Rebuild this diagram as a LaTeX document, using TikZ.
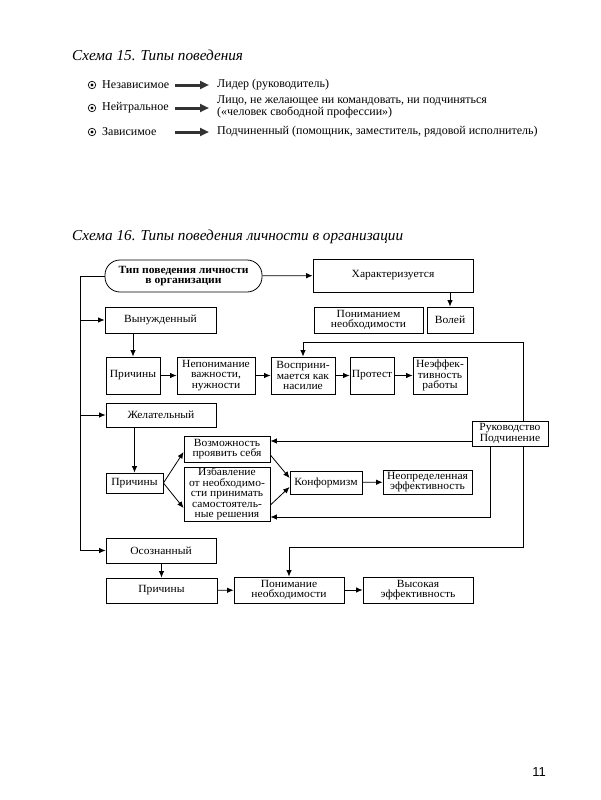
\documentclass[tikz,border=0pt]{standalone}
\usepackage{fontspec}
\setmainfont{Liberation Serif}
\newfontfamily\wideserif{Liberation Serif}[FakeStretch=1.05]
\newfontfamily\numfont{Liberation Sans}
\usetikzlibrary{arrows.meta, positioning, calc}

\newcommand{\boxfont}{\wideserif\fontsize{11}{10.4}\selectfont}
\newcommand{\listfont}{\fontsize{12}{12}\selectfont}
\newcommand{\headfont}{\fontsize{15.2}{16}\selectfont\itshape}

\tikzset{
  blk/.style={draw, line width=0.8pt, align=center, inner sep=1pt, font=\boxfont},
  arr/.style={-{Latex[length=6.5pt,width=5.5pt]}, line width=0.8pt},
  fat/.style={-{Triangle[length=9pt,width=8pt]}, line width=3pt, black!80},
  lbl/.style={anchor=west, inner sep=0pt, font=\listfont, align=left},
}

\begin{document}
\begin{tikzpicture}[x=1pt, y=-1pt]
    \useasboundingbox (0,0) rectangle (600,800);

    % Scheme 15
    \node[anchor=west, inner sep=0pt, font=\headfont] (head15) at (72,55) {Схема 15. Типы поведения};

    \foreach \i/\yy in {1/85, 2/108, 3/132} {
        \node[circle, draw, line width=0.7pt, inner sep=0pt, minimum size=7.5pt] (dot\i) at (92,\yy) {};
        \fill (dot\i) circle (1.7pt);
        \coordinate (s\i) at (175,\yy);
        \coordinate (e\i) at (209,\yy);
    }
    \node[lbl] (kind1) at (102,85) {Независимое};
    \node[lbl] (kind2) at (102,108) {Нейтральное};
    \node[lbl] (kind3) at (102,132) {Зависимое};

    \node[lbl] (role1) at (217,85) {Лидер (руководитель)};
    \node[lbl] (role2) at (217,107) {Лицо, не желающее ни командовать, ни подчиняться\\(«человек свободной профессии»)};
    \node[lbl] (role3) at (217,132) {Подчиненный (помощник, заместитель, рядовой исполнитель)};

    \foreach \i in {1,2,3}
        \draw[fat] (s\i) -- (e\i);

    % Scheme 16
    \node[anchor=west, inner sep=0pt, font=\headfont] (head16) at (72,237) {Схема 16. Типы поведения личности в организации};

    \node[blk, rounded corners=15pt, minimum width=157pt, minimum height=32pt, font=\boxfont\bfseries] (type) at (183.5,276) {Тип поведения личности\\в организации};
    \node[blk, minimum width=160pt, minimum height=33pt] (har) at (393,275.5) {Характеризуется};
    \node[blk, minimum width=109pt, minimum height=26pt] (neces1) at (368.5,320) {Пониманием\\необходимости};
    \node[blk, minimum width=46pt, minimum height=26pt] (will) at (450,320) {Волей};

    % forced
    \node[blk, minimum width=111pt, minimum height=26pt] (forced) at (160.5,320) {Вынужденный};
    \node[blk, minimum width=54pt, minimum height=37pt] (why1) at (133,375.5) {Причины};
    \node[blk, minimum width=78pt, minimum height=37pt] (misund) at (216,375.5) {Непонимание\\важности,\\нужности};
    \node[blk, minimum width=64pt, minimum height=37pt] (seen) at (303,375.5) {Восприни-\\мается как\\насилие};
    \node[blk, minimum width=44pt, minimum height=37pt] (protest) at (372,375.5) {Протест};
    \node[blk, minimum width=54pt, minimum height=37pt] (ineff) at (440,375.5) {Неэффек-\\тивность\\работы};

    % desired
    \node[blk, minimum width=110pt, minimum height=24pt] (desired) at (161,415) {Желательный};
    \node[blk, minimum width=76pt, minimum height=25pt] (lead) at (510,433.5) {Руководство\\Подчинение};
    \node[blk, minimum width=57pt, minimum height=20pt] (why2) at (134.5,483) {Причины};
    \node[blk, minimum width=86pt, minimum height=26pt] (chance) at (227,449) {Возможность\\проявить себя};
    \node[blk, minimum width=86pt, minimum height=52pt] (relief) at (227,494) {Избавление\\от необходимо-\\сти принимать\\самостоятель-\\ные решения};
    \node[blk, minimum width=72pt, minimum height=23pt] (conf) at (326,482.5) {Конформизм};
    \node[blk, minimum width=89pt, minimum height=24pt] (unclear) at (427.5,482) {Неопределенная\\эффективность};

    % conscious
    \node[blk, minimum width=110pt, minimum height=25pt] (consc) at (161,550.5) {Осознанный};
    \node[blk, minimum width=111pt, minimum height=25pt] (why3) at (161.5,590.5) {Причины};
    \node[blk, minimum width=110pt, minimum height=26pt] (neces2) at (289,590) {Понимание\\необходимости};
    \node[blk, minimum width=110pt, minimum height=26pt] (high) at (418,590) {Высокая\\эффективность};

    % Connectors
    \draw[arr] (type) -- (har);
    \draw[arr] (har.south -| will.north) -- (will.north);
    \draw[arr] (type.west) -- ++(-24,0) coordinate (spine) |- (consc.west);
    \draw[arr] (spine |- forced.west) -- (forced.west);
    \draw[arr] (spine |- desired.west) -- (desired.west);

    \draw[arr] (forced.south -| why1.north) -- (why1.north);
    \draw[arr] (why1) -- (misund);
    \draw[arr] (misund) -- (seen);
    \draw[arr] (seen) -- (protest);
    \draw[arr] (protest) -- (ineff);

    \coordinate (up) at (523,342);
    \draw[arr] (lead.north -| up) -- (up) -| (seen.north);
    \draw[arr] ([yshift=-7.5pt]lead.west) coordinate (l1) -- (l1 -| chance.east);
    \draw[arr] ([xshift=-20pt]lead.south) |- ([yshift=-23pt]relief.east);
    \coordinate (down) at (523,547);
    \draw[arr] (lead.south -| down) -- (down) -| (neces2.north);

    \draw[arr] (desired.south -| why2.north) -- (why2.north);
    \draw[arr] (why2.east) -- ([yshift=-3pt]chance.west);
    \draw[arr] (why2.east) -- ([yshift=-14pt]relief.west);
    \draw[arr] ([yshift=-6pt]chance.east) -- ([yshift=4.5pt]conf.west);
    \draw[arr] ([yshift=-11pt]relief.east) -- ([yshift=-4.5pt]conf.west);
    \draw[arr] (conf) -- (unclear);

    \draw[arr] (consc.south -| why3.north) -- (why3.north);
    \draw[arr] (why3) -- (neces2);
    \draw[arr] (neces2) -- (high);

    % page number
    \node[font=\numfont\fontsize{13}{14}\selectfont, inner sep=0pt] (page) at (539,772) {11};
\end{tikzpicture}
\end{document}
